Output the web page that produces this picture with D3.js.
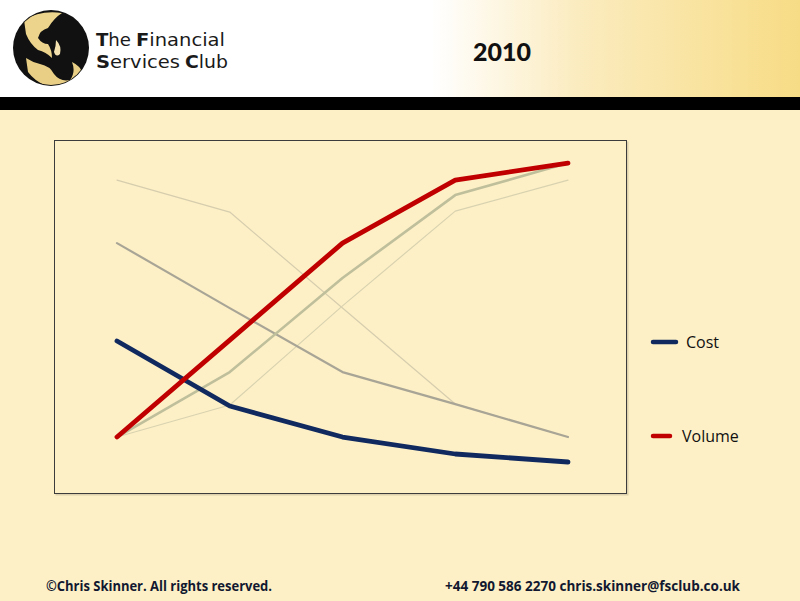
<!DOCTYPE html>
<html><head><meta charset="utf-8">
<script src="https://cdn.jsdelivr.net/npm/d3@7"></script>
<style>html,body{margin:0;padding:0;background:#fdf0c6;}svg{display:block;}</style>
</head><body>
<script>
const categories = ["Stage 1","Stage 2","Stage 3","Stage 4","Stage 5"];
const cost   = [42.8, 22.5, 12.8, 7.5, 5.0];
const volume = [12.8, 43.1, 73.4, 93.1, 98.4];
const ghostCostA   = [73.4, 53.1, 33.1, 23.1, 12.8];
const ghostCostB   = [93.1, 83.1, 53.1, 23.1, 12.8];
const ghostVolumeA = [12.8, 33.1, 62.5, 88.4, 98.4];
const ghostVolumeB = [12.8, 22.8, 53.8, 83.4, 93.1];
const legendLabels = ["Cost","Volume"];
const title = "2010";

const W = 800, H = 601;
const svg = d3.select("body").append("svg").attr("width", W).attr("height", H);
const defs = svg.append("defs");
const hg = defs.append("linearGradient").attr("id","hg").attr("x1","0").attr("x2","1");
hg.append("stop").attr("offset","0").attr("stop-color","#ffffff");
hg.append("stop").attr("offset","0.54").attr("stop-color","#ffffff");
hg.append("stop").attr("offset","0.72").attr("stop-color","#fbecc0");
hg.append("stop").attr("offset","1").attr("stop-color","#f7dc86");

// background
svg.append("rect").attr("width",W).attr("height",H).attr("fill","#fdf0c6");
svg.append("rect").attr("width",W).attr("height",97).attr("fill","url(#hg)");
svg.append("rect").attr("y",97).attr("width",W).attr("height",13).attr("fill","#000");

// logo
const lg = svg.append("g");
defs.append("clipPath").attr("id","lc").append("circle").attr("cx",51).attr("cy",48).attr("r",37);
lg.append("circle").attr("cx",51).attr("cy",48).attr("r",38).attr("fill","#111");
const lc = lg.append("g").attr("clip-path","url(#lc)");
lc.append("path").attr("d","M24,20 Q40,10 62,13 Q54,18 48,28 Q40,30 38,38 Q42,44 48,44 Q52,50 52,58 Q46,52 38,50 Q30,44 26,34 Z").attr("fill","#ecd48c");
lc.append("path").attr("d","M26,58 Q32,62 40,64 Q50,66 54,74 Q60,82 70,80 Q76,72 72,62 Q80,66 82,72 Q78,84 62,88 Q40,88 28,72 Z").attr("fill","#e9cf86");
lc.append("path").attr("d","M56,40 Q62,46 60,54 Q56,58 54,52 Q56,46 56,40 Z").attr("fill","#f3e2b0");

// logo text: one text per word, first letter bold
const lt = svg.append("g").attr("font-family","'DejaVu Sans', sans-serif").attr("font-size",18).attr("fill","#1a1a1a");
const words = [
  {w:"The", x:96, y:46, len:35}, {w:"Financial", x:136, y:46, len:89},
  {w:"Services", x:96, y:67.5, len:84}, {w:"Club", x:185, y:67.5, len:43}
];
words.forEach(d=>{
  const t = lt.append("text").attr("x",d.x).attr("y",d.y).attr("textLength",d.len).attr("lengthAdjust","spacingAndGlyphs");
  t.append("tspan").attr("font-weight","bold").text(d.w[0]);
  t.append("tspan").text(d.w.slice(1));
});

svg.append("text").attr("x",502).attr("y",61).attr("text-anchor","middle")
  .attr("font-family","Lato, sans-serif").attr("font-weight","900").attr("font-size",25).attr("fill","#111").text(title);

// plot frame
svg.append("rect").attr("x",55.5).attr("y",141.5).attr("width",573).attr("height",354).attr("fill","#7a7560").attr("opacity",0.25);
svg.append("rect").attr("x",54.5).attr("y",140.5).attr("width",572).attr("height",353).attr("fill","#fdf0c6").attr("stroke","#3c3c3c").attr("stroke-width",1);

const x = d3.scalePoint().domain(categories).range([117,568]);
const y = d3.scaleLinear().domain([0,100]).range([478,158]);
const line = d3.line().x((d,i)=>x(categories[i])).y(d=>y(d));

const series = [
  {v: ghostCostB,   c:"#d6cdae", w:1.2},
  {v: ghostVolumeB, c:"#d9d2b0", w:1.2},
  {v: ghostCostA,   c:"#a9a596", w:2.2},
  {v: ghostVolumeA, c:"#bfbf9c", w:2.6},
  {v: cost,         c:"#10295f", w:4.8},
  {v: volume,       c:"#c00000", w:4.8}
];
svg.append("g").selectAll("path").data(series).join("path")
  .attr("d", d=>line(d.v)).attr("fill","none").attr("stroke", d=>d.c)
  .attr("stroke-width", d=>d.w).attr("stroke-linecap","round").attr("stroke-linejoin","round");

// legend
const leg = svg.append("g");
const legItems = [{l:legendLabels[0], c:"#10295f", y:342, x2:676, tx:686},{l:legendLabels[1], c:"#c00000", y:436, x2:670, tx:682}];
leg.selectAll("line").data(legItems).join("line")
  .attr("x1",653).attr("x2",d=>d.x2).attr("y1",d=>d.y).attr("y2",d=>d.y)
  .attr("stroke",d=>d.c).attr("stroke-width",4.5).attr("stroke-linecap","round");
leg.selectAll("text").data(legItems).join("text")
  .attr("x",d=>d.tx).attr("y",d=>d.y+6).attr("font-family","'Open Sans', sans-serif").attr("font-size",16).attr("fill","#111").text(d=>d.l);

// footer
const ft = svg.append("g").attr("font-family","'Liberation Sans Narrow', 'Open Sans', sans-serif").attr("font-weight","bold").attr("font-size",15).attr("fill","#111830");
ft.append("text").attr("x",46).attr("y",591).attr("textLength",226).attr("lengthAdjust","spacingAndGlyphs").text("©Chris Skinner. All rights reserved.");
ft.append("text").attr("x",445).attr("y",591).attr("textLength",295).attr("lengthAdjust","spacingAndGlyphs").text("+44 790 586 2270 chris.skinner@fsclub.co.uk");
</script>
</body></html>
